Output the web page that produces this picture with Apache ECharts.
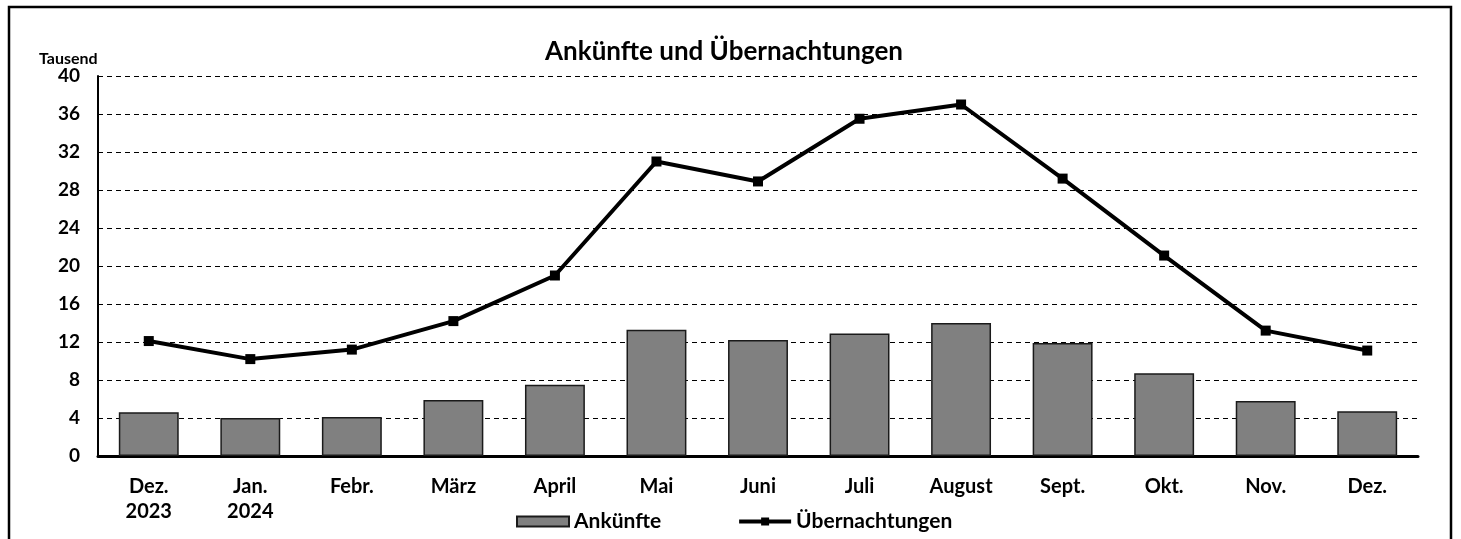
<!DOCTYPE html>
<html>
<head>
<meta charset="utf-8">
<script src="https://cdn.jsdelivr.net/npm/echarts@6/dist/echarts.min.js"></script>
<style>
  html, body { margin: 0; padding: 0; background: #fff; }
  #chart { width: 1461px; height: 539px; }
</style>
</head>
<body>
<div id="chart"></div>
<script>
// Monate (Dez. 2023 bis Dez. 2024)
const months = ['Dez.\n2023', 'Jan.\n2024', 'Febr.', 'März', 'April', 'Mai', 'Juni', 'Juli', 'August', 'Sept.', 'Okt.', 'Nov.', 'Dez.'];
// Werte in Tausend
const arrivals = [4.6, 4.0, 4.1, 5.9, 7.5, 13.3, 12.2, 12.9, 14.0, 11.9, 8.7, 5.8, 4.7];
const overnights = [12.1, 10.2, 11.2, 14.2, 19.0, 31.0, 28.9, 35.5, 37.0, 29.2, 21.1, 13.2, 11.1];

const font = 'Lato, "Noto Sans", sans-serif';

const chart = echarts.init(document.getElementById('chart'));
chart.setOption({
    animation: false,
    textStyle: { fontFamily: font, color: '#000', fontWeight: 'bold' },
    title: {
        text: 'Ankünfte und Übernachtungen',
        left: 719,
        textAlign: 'center',
        top: 34,
        textStyle: { fontFamily: font, fontSize: 26, fontWeight: 'bold', color: '#000' }
    },
    graphic: [
        {
            type: 'rect',
            shape: { x: 9, y: 7, width: 1442, height: 545 },
            style: { fill: 'none', stroke: '#000', lineWidth: 2.5 },
            silent: true
        },
        {
            type: 'text',
            left: 39,
            top: 51,
            style: { text: 'Tausend', font: 'bold 16px ' + font, fill: '#000' }
        }
    ],
    grid: { left: 98, right: 43, top: 76, bottom: 83 },
    legend: {
        bottom: 2,
        left: 511,
        itemGap: 76,
        itemWidth: 52,
        itemHeight: 10,
        textStyle: { fontFamily: font, fontSize: 21, fontWeight: 'bold', color: '#000' },
        data: [
            { name: 'Ankünfte', icon: 'rect' },
            { name: 'Übernachtungen', lineStyle: { width: 4 } }
        ]
    },
    xAxis: {
        type: 'category',
        data: months,
        axisLine: { lineStyle: { color: '#000', width: 3 } },
        axisTick: { show: false },
        axisLabel: { color: '#000', fontSize: 20, fontWeight: 'bold', lineHeight: 25, margin: 18, fontFamily: font }
    },
    yAxis: {
        type: 'value',
        min: 0,
        max: 40,
        interval: 4,
        axisLine: { show: true, lineStyle: { color: '#000', width: 2 } },
        axisTick: { show: false },
        axisLabel: { color: '#000', fontSize: 19, fontWeight: 'bold', margin: 18, fontFamily: font },
        splitLine: { lineStyle: { color: '#000', type: [5, 4], width: 1 } }
    },
    series: [
        {
            name: 'Ankünfte',
            type: 'bar',
            data: arrivals,
            barWidth: '59%',
            itemStyle: { color: '#808080', borderColor: '#1a1a1a', borderWidth: 1.5 }
        },
        {
            name: 'Übernachtungen',
            type: 'line',
            data: overnights,
            symbol: 'rect',
            symbolSize: 10,
            lineStyle: { color: '#000', width: 4 },
            itemStyle: { color: '#000' }
        }
    ]
});
</script>
</body>
</html>
